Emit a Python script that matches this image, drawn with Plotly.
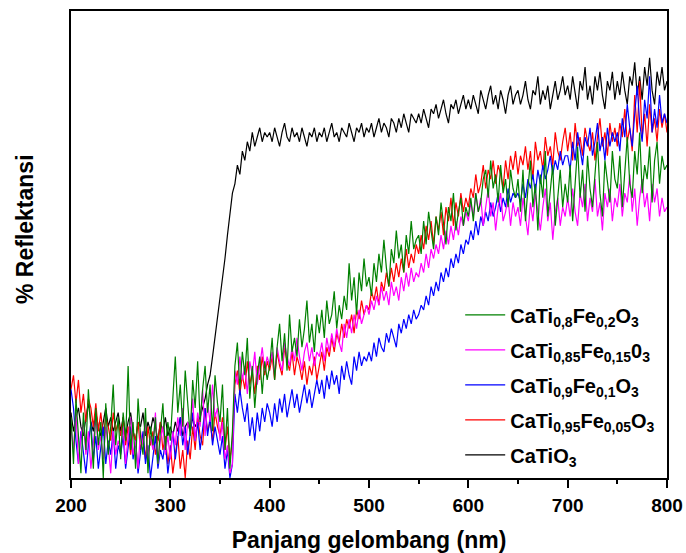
import plotly.graph_objects as go

# Wavelength grid (nm), 2.5 nm step
wavelength = [200 + 2.5 * i for i in range(241)]

# Diffuse reflectance (relative %, arbitrary scale); one row per 50 nm
cati_o3 = [
    14, 10, 13, 15, 11, 9, 13, 16, 12, 10, 14, 11, 9, 12, 15, 11, 13, 10, 12, 14,
    10, 13, 9, 12, 14, 10, 8, 12, 11, 14, 9, 12, 10, 13, 11, 8, 12, 10, 13, 9,
    11, 9, 12, 10, 13, 9, 11, 12, 10, 13, 11, 12, 13, 15, 17, 20, 22, 26, 30, 34,
    38, 43, 47, 52, 56, 61, 63, 67, 65, 70, 68, 72, 70, 74, 71, 73, 75, 72, 74, 73,
    74, 72, 75, 73, 71, 74, 76, 73, 72, 75, 73, 74, 72, 75, 73, 71, 74, 73, 75, 72,
    74, 73, 75, 72, 74, 76, 73, 74, 72, 75, 74, 73, 76, 74, 72, 75, 74, 76, 73, 75,
    74, 76, 73, 75, 77, 74, 76, 75, 73, 77, 76, 74, 77, 75, 78, 76, 74, 78, 77, 76,
    78, 76, 79, 77, 75, 79, 78, 80, 77, 79, 81, 78, 76, 80, 79, 81, 78, 80, 82, 79,
    81, 79, 82, 80, 78, 83, 81, 79, 82, 84, 80, 82, 79, 83, 81, 78, 82, 84, 80, 82,
    83, 80, 82, 85, 81, 79, 83, 82, 86, 80, 83, 81, 84, 79, 82, 85, 81, 83, 86, 82,
    84, 81, 86, 82, 79, 85, 83, 88, 81, 84, 80, 86, 83, 87, 82, 79, 85, 83, 87, 81,
    85, 82, 87, 83, 80, 86, 84, 89, 82, 86, 81, 88, 84, 90, 83, 80, 87, 84, 88, 83,
    85,
]
fe_005 = [
    19, 22, 16, 21, 14, 18, 12, 17, 15, 11, 16, 10, 14, 9, 13, 11, 8, 14, 10, 12,
    9, 13, 7, 11, 5, 10, 8, 12, 6, 9, 4, 11, 7, 10, 5, 8, 12, 6, 9, 3,
    7, 1, 5, 9, 2, 6, 0, 8, 4, 11, 6, 13, 9, 7, 15, 10, 12, 8, 14, 11,
    9, 13, 6, 11, 4, 8, 20, 23, 18, 22, 19, 25, 20, 23, 18, 24, 21, 26, 22, 25,
    23, 26, 21, 27, 24, 22, 28, 25, 23, 27, 22, 26, 24, 21, 25, 20, 24, 22, 26, 21,
    24, 27, 23, 28, 26, 30, 27, 31, 29, 33, 30, 34, 32, 35, 31, 36, 34, 38, 35, 37,
    36, 40, 38, 41, 37, 42, 40, 44, 41, 45, 42, 46, 43, 47, 44, 49, 45, 48, 46, 50,
    48, 52, 49, 54, 51, 55, 50, 56, 53, 57, 52, 58, 55, 60, 54, 59, 56, 61, 57, 60,
    58, 62, 60, 65, 61, 63, 67, 62, 66, 64, 68, 63, 67, 65, 62, 68, 64, 69, 66, 70,
    65, 69, 67, 71, 66, 70, 64, 72, 68, 70, 66, 73, 69, 71, 67, 74, 70, 68, 72, 75,
    70, 74, 68, 76, 71, 73, 69, 75, 72, 70, 74, 68, 73, 77, 71, 74, 69, 76, 72, 75,
    71, 76, 73, 79, 72, 75, 70, 82, 74, 85, 73, 78, 71, 80, 74, 77, 72, 79, 75, 78,
    74,
]
fe_01 = [
    19, 15, 8, 3, 10, 5, 1, 7, 12, 4, 9, 2, 6, 11, 3, 8, 5, 10, 2, 7,
    5, 9, 2, 7, 11, 4, 8, 1, 6, 10, 3, 7, 0, 5, 9, 2, 6, 4, 8, 1,
    6, 10, 4, 9, 13, 7, 11, 5, 9, 14, 8, 12, 6, 10, 15, 9, 13, 7, 11, 8,
    5, 9, 2, 6, 0, 3, 18, 14, 19, 15, 12, 16, 9, 13, 8, 14, 10, 15, 12, 16,
    14, 11, 16, 12, 17, 14, 18, 13, 16, 19, 15, 18, 14, 17, 20, 16, 19, 15, 18, 21,
    18, 21, 17, 22, 19, 23, 20, 22, 18, 24, 21, 25, 22, 20, 26, 23, 27, 24, 26, 25,
    27, 25, 29, 26, 30, 28, 27, 31, 29, 32, 30, 28, 33, 31, 34, 32, 35, 33, 36, 34,
    35, 37, 36, 39, 37, 41, 39, 42, 40, 44, 42, 45, 43, 47, 45, 48, 46, 50, 48, 51,
    50, 53, 51, 55, 52, 56, 54, 57, 55, 59, 56, 58, 61, 57, 60, 58, 62, 59, 61, 60,
    61, 59, 63, 60, 64, 62, 65, 61, 66, 63, 67, 64, 66, 69, 65, 68, 66, 70, 67, 69,
    69, 66, 72, 68, 74, 70, 67, 73, 71, 75, 69, 72, 76, 70, 73, 68, 75, 71, 74, 72,
    74, 70, 77, 73, 80, 75, 71, 78, 84, 76, 72, 81, 77, 86, 74, 79, 75, 82, 76, 78,
    76,
]
fe_015 = [
    11, 6, 14, 3, 9, 12, 5, 10, 2, 8, 13, 6, 9, 4, 11, 7, 1, 10, 5, 8,
    6, 11, 3, 9, 13, 5, 8, 2, 10, 7, 12, 4, 9, 6, 14, 3, 8, 11, 5, 9,
    4, 10, 7, 13, 9, 15, 6, 12, 10, 17, 8, 14, 11, 19, 9, 16, 12, 20, 13, 15,
    8, 12, 4, 7, 1, 3, 23, 20, 26, 21, 24, 18, 25, 22, 27, 20, 24, 28, 23, 26,
    24, 27, 22, 28, 25, 23, 29, 26, 24, 28, 25, 30, 26, 23, 27, 29, 25, 28, 24, 27,
    26, 29, 25, 30, 27, 31, 28, 32, 29, 27, 33, 30, 34, 31, 35, 32, 36, 33, 35, 37,
    35, 38, 36, 39, 37, 41, 38, 40, 37, 42, 39, 41, 38, 43, 40, 44, 41, 45, 42, 44,
    43, 46, 44, 48, 45, 49, 47, 50, 48, 52, 49, 53, 50, 54, 51, 55, 52, 56, 54, 57,
    55, 59, 56, 61, 57, 60, 54, 58, 62, 56, 59, 53, 58, 61, 55, 57, 60, 54, 59, 56,
    58, 54, 60, 56, 52, 59, 55, 61, 57, 53, 58, 62, 55, 59, 51, 57, 60, 54, 58, 56,
    60, 56, 62, 57, 54, 61, 58, 63, 55, 60, 57, 64, 56, 59, 53, 61, 58, 62, 55, 60,
    58, 63, 56, 61, 59, 65, 57, 62, 54, 60, 64, 58, 61, 55, 63, 59, 62, 56, 60, 57,
    58,
]
fe_02 = [
    13, 3, 17, 8, 1, 14, 6, 19, 9, 2, 15, 7, 12, 0, 16, 5, 11, 20, 7, 13,
    4, 14, 8, 24, 6, 12, 2, 17, 9, 5, 15, 1, 11, 7, 13, 3, 10, 16, 6, 12,
    8, 18, 26, 14, 20, 11, 23, 16, 9, 21, 15, 25, 12, 19, 24, 14, 20, 10, 22, 16,
    12, 20, 6, 15, 2, 10, 24, 29, 19, 27, 22, 30, 17, 24, 15, 22, 26, 18, 25, 21,
    24, 30, 21, 28, 33, 25, 31, 23, 35, 27, 30, 26, 34, 28, 32, 38, 29, 33, 27, 35,
    31, 36, 30, 38, 33, 35, 40, 32, 37, 34, 39, 36, 46, 38, 43, 35, 44, 40, 47, 41,
    43, 39, 46, 42, 48, 44, 51, 45, 41, 49, 46, 53, 47, 50, 44, 52, 48, 55, 49, 51,
    52, 48, 55, 50, 57, 53, 49, 56, 52, 59, 54, 50, 58, 55, 61, 53, 57, 60, 54, 58,
    56, 60, 55, 61, 57, 59, 64, 66, 60, 68, 62, 65, 59, 67, 61, 64, 58, 66, 62, 60,
    64, 57, 66, 55, 62, 68, 58, 63, 53, 65, 60, 70, 56, 62, 67, 54, 61, 66, 58, 63,
    59, 67, 55, 64, 71, 60, 66, 57, 69, 62, 58, 65, 72, 61, 56, 68, 63, 59, 70, 64,
    62, 69, 58, 66, 73, 63, 60, 70, 65, 74, 61, 67, 64, 71, 59, 68, 72, 63, 69, 66,
    67,
]

# Drawn back to front; the legend lists them front to back
series = [
    ("CaTiO<sub>3</sub>", cati_o3, "#000000"),
    ("CaTi<sub>0,95</sub>Fe<sub>0,05</sub>O<sub>3</sub>", fe_005, "#ff0000"),
    ("CaTi<sub>0,9</sub>Fe<sub>0,1</sub>O<sub>3</sub>", fe_01, "#0000ff"),
    ("CaTi<sub>0,85</sub>Fe<sub>0,15</sub>0<sub>3</sub>", fe_015, "#ff00ff"),
    ("CaTi<sub>0,8</sub>Fe<sub>0,2</sub>O<sub>3</sub>", fe_02, "#008000"),
]

fig = go.Figure()
for i, (name, values, color) in enumerate(series):
    assert len(values) == len(wavelength), (name, len(values))
    fig.add_trace(go.Scatter(
        x=wavelength, y=values, mode="lines", name=name,
        legendgroup=f"g{i}", legendrank=len(series) - i,
        line=dict(color=color, width=1.2),
    ))

font_main = "Arial, Liberation Sans, sans-serif"

fig.update_layout(
    width=686, height=553,
    margin=dict(l=71, r=19, t=11, b=75, autoexpand=False),
    plot_bgcolor="white", paper_bgcolor="white",
    font=dict(family=font_main, color="black"),
    showlegend=True,
    legend=dict(
        traceorder="grouped",
        x=0.653, y=0.391, xanchor="left", yanchor="top",
        bgcolor="rgba(0,0,0,0)",
        font=dict(size=20, family=font_main, weight="bold"),
        itemwidth=40,
        tracegroupgap=6,
    ),
    xaxis=dict(
        range=[200, 800], dtick=100, tick0=200,
        ticks="outside", ticklen=8, tickwidth=1.5, tickcolor="black",
        minor=dict(dtick=50, ticks="outside", ticklen=4, tickwidth=1.5, tickcolor="black"),
        showline=True, linewidth=2, linecolor="black", mirror=True,
        showgrid=False, zeroline=False,
        tickfont=dict(size=19, weight="bold"),
        ticklabelstandoff=1,
        title=dict(text="Panjang gelombang (nm)", font=dict(size=23, weight="bold"), standoff=23),
    ),
    yaxis=dict(
        range=[0, 100],
        showticklabels=False, ticks="",
        showline=True, linewidth=2, linecolor="black", mirror=True,
        showgrid=False, zeroline=False,
    ),
    annotations=[dict(
        text="% Reflektansi", textangle=-90,
        xref="paper", yref="paper",
        x=(25 - 71) / 596, y=(478 - 229) / 467,
        xanchor="center", yanchor="middle", showarrow=False,
        font=dict(size=23, weight="bold"),
    )],
)

fig.write_html("out.html")
